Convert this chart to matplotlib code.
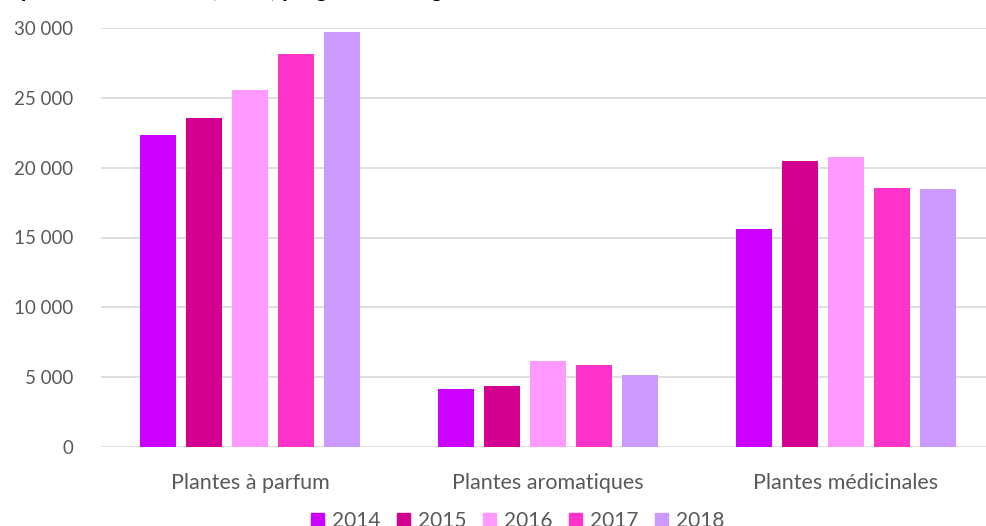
import matplotlib.pyplot as plt
import numpy as np
from matplotlib.patches import Patch

# data (surfaces en ha)
categories = ['Plantes à parfum', 'Plantes aromatiques', 'Plantes médicinales']
years = ['2014', '2015', '2016', '2017', '2018']
values = {
    '2014': [22340, 4150, 15590],
    '2015': [23580, 4350, 20500],
    '2016': [25580, 6180, 20760],
    '2017': [28140, 5850, 18540],
    '2018': [29710, 5130, 18470],
}
colors = ['#CC00FF', '#D4008F', '#FF99FF', '#FF33CC', '#CC99FF']
yticks = [0, 5000, 10000, 15000, 20000, 25000, 30000]

plt.rcParams['font.family'] = ['Lato', 'DejaVu Sans']

fig = plt.figure(figsize=(9.86, 5.26), dpi=100)
ax = fig.add_axes([101 / 986, 79 / 526, 894 / 986, 419 / 526])

x = np.arange(len(categories))
pitch = 0.154
width = 0.121
for i, yr in enumerate(years):
    ax.bar(x + (i - 2) * pitch, values[yr], width, color=colors[i], zorder=3)

ax.set_xlim(-0.5, 2.5)
ax.set_ylim(0, 30000)
ax.set_yticks(yticks)
ax.set_yticklabels(['{:,}'.format(v).replace(',', ' ') for v in yticks],
                   fontsize=13.5, color='#595959')
ax.set_xticks(x)
ax.set_xticklabels(categories, fontsize=15.5, color='#595959')
ax.tick_params(length=0)
ax.tick_params(axis='y', pad=20)
ax.tick_params(axis='x', pad=19)
ax.grid(axis='y', color='#D9D9D9', linewidth=1.2, zorder=0)
for s in ax.spines.values():
    s.set_visible(False)

# title: only its lower edge shows at the top of the original image
fig.text(-0.004, 1.0 + 3 / 526, 'Superficies en PPAM (en ha) progressent largement',
         fontsize=16, fontweight='bold', color='black', va='baseline',
         ha='left')

handles = [Patch(color=c) for c in colors]
fig.legend(handles, years, loc='center', bbox_to_anchor=(0.525, 5 / 526),
           ncol=5, frameon=False, fontsize=15, handlelength=0.6,
           handleheight=0.6, handletextpad=0.4, columnspacing=0.8,
           labelcolor='#595959')

fig.savefig('out.png', dpi=100)
